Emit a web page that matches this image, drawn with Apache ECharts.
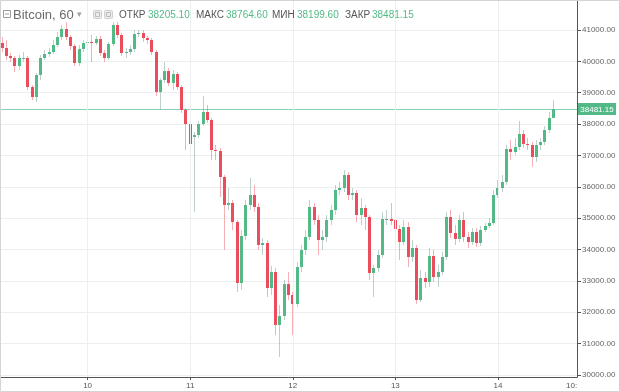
<!DOCTYPE html>
<html><head><meta charset="utf-8">
<script src="https://cdn.jsdelivr.net/npm/echarts@6/dist/echarts.min.js"></script>
<style>html,body{margin:0;padding:0;background:#fff}#c{width:620px;height:392px}</style>
</head><body><div id="c"></div>
<script>
// ---- data: hourly Bitcoin candles, first candle = day 9, 04:00 ----
const startDay = 9;
const startHour = 4;
const slotCount = 135;           // hourly slots on the time axis (incl. empty right margin)
const dayTickLabels = ['10', '11', '12', '13', '14'];
const seriesName = 'Bitcoin, 60';
const headerLabels = ['ОТКР', 'МАКС', 'МИН', 'ЗАКР'];
const edgeTimeLabel = '10:';

const opens = [
  40586,40426,40171,40107,39852,40107,40120,39183,38864,39565,
  40107,40235,40299,40522,40777,41032,40777,40490,39948,40394,
  40586,40617,40600,40713,40267,40107,40554,41159,40841,40267,
  40299,40394,40872,40904,40745,40681,40299,39023,39406,39693,
  39310,39597,39183,38449,38003,37588,37652,38003,38386,38130,
  37174,37142,36313,35420,35484,34878,32933,34432,35420,35739,
  35357,34145,34209,32774,33284,31594,31881,32901,32551,32264,
  33443,33986,34400,35357,34942,34304,34400,34942,35261,35898,
  35962,36377,35739,35803,35101,35325,35038,33252,33412,33826,
  34974,34990,34942,34655,34241,34719,33762,34049,32391,33093,
  32965,33794,33125,33284,33762,35038,34528,34336,34942,34400,
  34241,34560,34209,34623,34751,34846,35739,35962,36154,37206,
  37110,37269,37684,37365,37333,36951,37333,37429,37812,38205.10
];
const closes = [
  40426,40171,40107,39852,40107,40120,39183,38864,39565,40107,
  40235,40299,40522,40777,41032,40777,40490,39948,40394,40586,
  40617,40600,40713,40267,40107,40554,41159,40841,40267,40299,
  40394,40872,40904,40745,40681,40299,39023,39406,39693,39310,
  39597,39183,38449,38003,37365,37652,38003,38386,38130,37174,
  37142,36313,35420,35484,34878,32933,34432,35420,35739,35357,
  34145,34209,32774,33284,31594,31881,32901,32551,32264,33443,
  33986,34400,35357,34942,34304,34400,34942,35261,35898,35962,
  36377,35739,35803,35101,35325,35038,33252,33412,33826,34974,
  34990,34942,34655,34241,34719,33762,34049,32391,33093,32965,
  33794,33125,33284,33762,35038,34528,34336,34942,34400,34241,
  34560,34209,34623,34751,34846,35739,35962,36154,37206,37110,
  37269,37684,37365,37333,36951,37333,37429,37812,38194,38481.15
];
const lows = [
  40299,40043,39980,39661,39725,39980,39087,38768,38704,39406,
  40043,40139,40235,40458,40681,40681,40362,39852,39852,40299,
  40490,39980,40522,40171,39980,40043,40490,40745,40171,40107,
  40203,40299,40777,40617,40554,40203,38896,38449,39310,39215,
  39087,39087,38354,37174,37269,35197,37556,37939,38035,36855,
  36855,35675,33986,35261,34623,32646,32710,34304,35261,35197,
  33986,33826,32487,32551,31275,30574,31754,32391,31275,32168,
  33284,33826,34304,34783,33826,33986,34241,34783,35101,35739,
  35835,35580,35580,34878,34783,34623,33029,32487,33284,33730,
  34783,34783,34464,33667,34145,33443,33603,32264,32327,32774,
  32806,32965,32806,33188,33667,34368,34145,34241,34241,34049,
  34145,34081,34113,34560,34687,34783,35643,35835,36058,36855,
  37014,37174,37238,37174,36632,36791,37174,37333,37716,38199.60
];
const highs = [
  40777,40681,40267,40171,40203,40299,40171,39246,39629,40203,
  40362,40426,40681,40936,41159,41255,40841,40554,40522,40681,
  40745,40841,40809,40809,40362,40617,41255,41255,40904,40426,
  40522,41000,41000,41000,40809,40745,40362,39470,39980,39788,
  39725,39661,39246,38513,38098,37748,38098,38896,38609,38194,
  37333,37238,36377,35962,35580,34942,34623,35580,36281,36058,
  35484,34368,34304,33475,33412,32232,33029,33284,32646,33603,
  34145,34623,35580,35484,35101,34623,35101,35420,36058,36154,
  36536,36472,35962,35898,35643,35420,35101,33507,33986,35197,
  35261,35484,35101,34783,34942,34878,34304,34145,33348,33284,
  34049,33986,33507,33922,35197,35261,34783,35101,35197,34560,
  34687,34687,34751,34846,35006,35898,36217,36377,37333,37493,
  37556,38098,37812,37556,37429,37493,37556,37939,38386,38764.60
];

// ---- colours ----
const upColor = '#53b987', downColor = '#eb4d5c';
const upWick = 'rgba(110,150,140,0.45)', downWick = 'rgba(235,77,92,0.45)';
const priceLineColor = '#5fc193';
const gridColor = '#eceff2', axisColor = '#555';
const fontFam = '"Liberation Sans", Arial, sans-serif';

// ---- derived ----
const slots = [];
for (let k = 0; k < slotCount; k++) {
  const h = startHour + k;
  const day = startDay + Math.floor(h / 24);
  const hh = String(h % 24).padStart(2, '0');
  slots.push(day + ' ' + hh + ':00');
}
const dayCats = dayTickLabels.map(d => d + ' 00:00');
const isDay = (i, v) => v.endsWith(' 00:00');
const candles = opens.map((o, i) => [i, o, closes[i], lows[i], highs[i]]);
const last = opens.length - 1;
const headerValues = [opens[last], highs[last], lows[last], closes[last]].map(v => v.toFixed(2));

const chart = echarts.init(document.getElementById('c'), null, {renderer: 'canvas'});

const headerGraphics = [];
headerGraphics.push({type: 'rect', shape: {x: 0.5, y: 0.5, width: 619, height: 391}, style: {fill: 'none', stroke: '#d4d4d4', lineWidth: 1}, z: 100, silent: true});
headerGraphics.push({type: 'rect', shape: {x: 3.5, y: 10.5, width: 7, height: 7}, style: {fill: '#fff', stroke: '#9a9a9a', lineWidth: 1}, z: 100});
headerGraphics.push({type: 'line', shape: {x1: 5, y1: 14, x2: 9, y2: 14}, style: {stroke: '#9a9a9a', lineWidth: 1}, z: 100});
headerGraphics.push({type: 'text', x: 13, y: 15, style: {text: seriesName, font: '13px ' + fontFam, fill: '#6a6a6a', verticalAlign: 'middle'}, z: 100});
headerGraphics.push({type: 'text', x: 77, y: 15, style: {text: '▾', font: '9px ' + fontFam, fill: '#a0a0a0', verticalAlign: 'middle'}, z: 100});
[93, 104].forEach(x => {
  headerGraphics.push({type: 'rect', shape: {x: x + 0.5, y: 10.5, width: 8, height: 8, r: 1}, style: {fill: '#ececec', stroke: '#d0d0d0', lineWidth: 1}, z: 100});
  headerGraphics.push({type: 'rect', shape: {x: x + 2.5, y: 12.5, width: 4, height: 4}, style: {fill: 'none', stroke: '#bdbdbd', lineWidth: 1}, z: 100});
});
const labelX = [119, 196, 272, 345];
const valueX = [148, 226, 297, 372];
headerLabels.forEach((t, i) => {
  headerGraphics.push({type: 'text', x: labelX[i], y: 15, style: {text: t, font: '10px ' + fontFam, fill: '#555', verticalAlign: 'middle'}, z: 100});
  headerGraphics.push({type: 'text', x: valueX[i], y: 15, style: {text: headerValues[i], font: '10px ' + fontFam, fill: upColor, verticalAlign: 'middle'}, z: 100});
});
headerGraphics.push({type: 'text', x: 566, y: 386, style: {text: edgeTimeLabel, font: '8px ' + fontFam, fill: axisColor, verticalAlign: 'middle'}, z: 100});

chart.setOption({
  animation: false,
  backgroundColor: '#fff',
  grid: {left: 0, right: 43, top: 0, bottom: 15, containLabel: false},
  xAxis: {
    type: 'category', data: slots, boundaryGap: true,
    axisLine: {show: true, lineStyle: {color: axisColor, width: 1}},
    axisTick: {show: true, alignWithLabel: true, interval: isDay, length: 3, lineStyle: {color: axisColor}},
    axisLabel: {interval: isDay, formatter: v => v.split(' ')[0], fontSize: 8, color: axisColor, margin: 5, fontFamily: fontFam},
    splitLine: {show: false}
  },
  yAxis: {
    type: 'value', position: 'right', min: 29936.5, max: 41956.5, splitNumber: 10,
    axisLine: {show: true, lineStyle: {color: axisColor, width: 1}},
    axisTick: {show: true, length: 4, lineStyle: {color: axisColor}},
    axisLabel: {formatter: v => v.toFixed(2), fontSize: 8, color: '#666', margin: 5, fontFamily: fontFam, showMinLabel: false, showMaxLabel: false},
    splitLine: {show: true, lineStyle: {color: gridColor, width: 1}}
  },
  graphic: headerGraphics,
  series: [
    {
      type: 'line', z: 1, silent: true, showSymbol: false,
      data: closes.map((v, i) => [i, v]), lineStyle: {opacity: 0},
      markLine: {silent: true, symbol: 'none', animation: false, label: {show: false},
        lineStyle: {color: gridColor, width: 1, type: 'solid'},
        data: dayCats.map(c => ({xAxis: c}))}
    },
    {
      type: 'custom', z: 2, data: candles, encode: {x: 0, y: [1, 2, 3, 4]},
      renderItem: function (params, api) {
        const idx = api.value(0);
        const o = api.value(1), c = api.value(2), l = api.value(3), h = api.value(4);
        const pO = api.coord([idx, o]), pC = api.coord([idx, c]);
        const pL = api.coord([idx, l]), pH = api.coord([idx, h]);
        const band = api.size([1, 0])[0];
        const bw = Math.max(2, Math.round(band * 0.7));
        const left = Math.round(pO[0] - bw / 2);
        const up = c >= o;
        const top = Math.round(Math.min(pO[1], pC[1]));
        const hgt = Math.max(1, Math.round(Math.abs(pO[1] - pC[1])));
        const wx = left + Math.floor(bw / 2) + 0.5;
        return {type: 'group', children: [
          {type: 'line', shape: {x1: wx, y1: pH[1], x2: wx, y2: pL[1]}, style: {stroke: up ? upWick : downWick, lineWidth: 1}},
          {type: 'rect', shape: {x: left, y: top, width: bw, height: hgt}, style: {fill: up ? upColor : downColor}}
        ]};
      }
    },
    {
      // last-price line and its tag on the price scale
      type: 'custom', z: 1, clip: false, silent: true,
      data: [[last, closes[last]]], encode: {x: 0, y: 1},
      renderItem: function (params, api) {
        const p = api.coord([api.value(0), api.value(1)]);
        const cs = params.coordSys;
        const y = Math.round(p[1]) + 0.5;
        const right = cs.x + cs.width;
        return {type: 'group', children: [
          {type: 'line', shape: {x1: cs.x, y1: y, x2: right, y2: y}, style: {stroke: priceLineColor, lineWidth: 1, opacity: 0.75}},
          {type: 'rect', shape: {x: right + 1, y: y - 6.5, width: 38, height: 12}, style: {fill: upColor}},
          {type: 'text', x: right + 20, y: y, style: {text: api.value(1).toFixed(2), fill: '#fff', font: '8px ' + fontFam, align: 'center', verticalAlign: 'middle'}}
        ]};
      }
    }
  ]
});
</script></body></html>
